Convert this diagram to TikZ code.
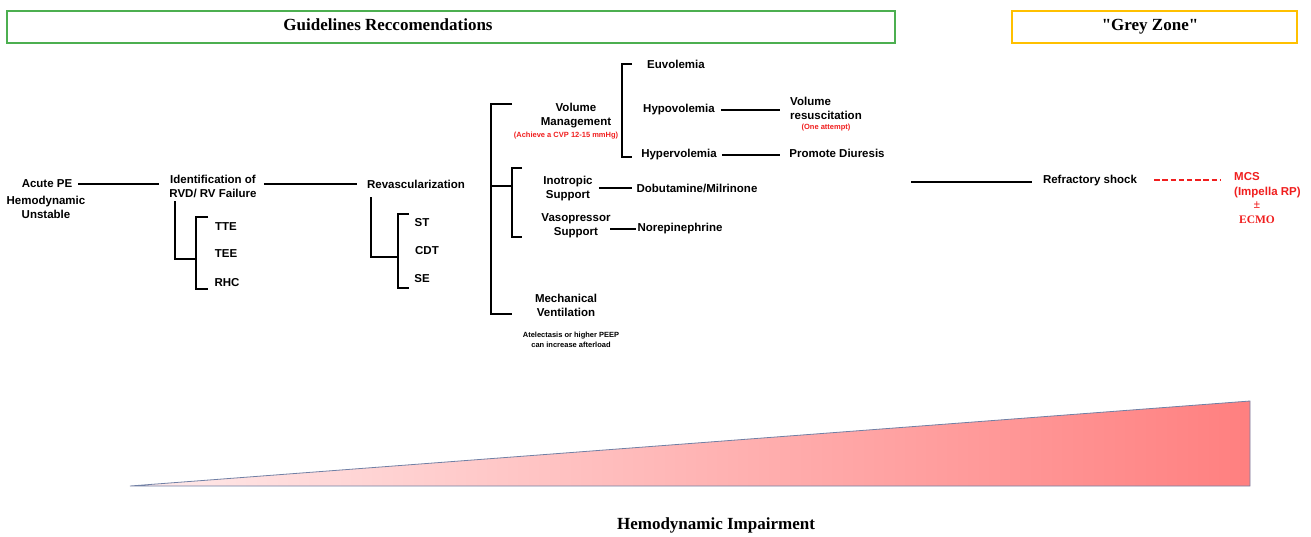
\documentclass[tikz,border=0pt]{standalone}
\usepackage{fontspec}
\setmainfont{Liberation Sans}
\newfontfamily\titlefont{Liberation Serif}
\usepackage{tikz}
\usetikzlibrary{positioning}
\definecolor{boxgreen}{RGB}{76,175,80}
\definecolor{boxyellow}{RGB}{255,192,0}
\definecolor{edgeblue}{RGB}{112,128,165}
\definecolor{alertred}{RGB}{240,30,30}
\tikzset{
 lbl/.style={font=\fontsize{11.5}{14}\selectfont\bfseries, align=center, inner sep=1pt},
 note/.style={font=\fontsize{7.5}{9.5}\selectfont\bfseries, align=center, inner sep=0pt},
 head/.style={font=\titlefont\fontsize{17}{20}\selectfont\bfseries, inner sep=0pt},
 conn/.style={line width=1.2pt},
 brk/.style={line width=2.4pt},
}

\begin{document}
\begin{tikzpicture}[x=1pt,y=-1pt]
\useasboundingbox (0,0) rectangle (1311,536);

%Headers
\draw[boxgreen, line width=1.5pt] (7,11) rectangle (895,43);
\node[head] (guide) at (388,25) {Guidelines Reccomendations};
\draw[boxyellow, line width=1.5pt] (1012,11) rectangle (1297,43);
\node[head] (grey) at (1150,27) {"Grey Zone"};

%Diagnosis
\node[lbl] (acute) at (47,184) {Acute PE};
\node[lbl] (unstable) at (46,207) {Hemodynamic\\Unstable};
\node[lbl] (ident) at (213,186) {Identification of\\RVD/ RV Failure};
\node[lbl] (revasc) at (416,184) {Revascularization};
\draw[conn, shorten <=5pt, shorten >=9pt] (acute.east) -- (acute.east -| ident.west);
\draw[conn, shorten <=6pt, shorten >=9pt] (ident.east |- revasc.west) -- (revasc.west);

\node[lbl] (tte) at (226,227) {TTE};
\node[lbl] (tee) at (226,254) {TEE};
\node[lbl] (rhc) at (227,283) {RHC};
\draw[conn] (175,201) |- (196,259);
\draw[conn] (208,217) -| (196,289) -- (208,289);

\node[lbl] (st) at (422,223) {ST};
\node[lbl] (cdt) at (427,251) {CDT};
\node[lbl] (se) at (422,279) {SE};
\draw[conn] (371,197) |- (398,257);
\draw[conn] (409,214) -| (398,288) -- (409,288);

%Supportive care
\draw[brk] (512,104) -| (491,314) -- (512,314);
\draw[brk] (491,186) -- (512,186);
\draw[conn, line width=1.6pt] (522,168) -| (512,237) -- (522,237);

\node[lbl] (volume) at (576,116) {Volume\\Management};
\node[note, text=alertred] (cvp) at (566,136) {(Achieve a CVP 12-15 mmHg)};
\draw[conn] (632,64) -| (622,157) -- (632,157);
\node[lbl] (euvol) at (676,64) {Euvolemia};
\node[lbl] (hypovol) at (679,110) {Hypovolemia};
\node[lbl] (hypervol) at (679,155) {Hypervolemia};
\node[lbl, align=left, anchor=west] (volres) at (789,108) {Volume\\resuscitation};
\node[note, text=alertred] (attempt) at (826,128) {(One attempt)};
\node[lbl] (diuresis) at (837,153) {Promote Diuresis};
\draw[conn, shorten <=5pt, shorten >=9pt] (hypovol.east) -- (hypovol.east -| volres.west);
\draw[conn, shorten <=4pt, shorten >=8pt] (hypervol.east) -- (hypervol.east -| diuresis.west);

\node[lbl] (ino) at (568,189) {Inotropic\\Support};
\node[lbl] (dobut) at (697,188) {Dobutamine/Milrinone};
\draw[conn, shorten <=5pt, shorten >=3pt] (ino.east |- dobut.west) -- (dobut.west);

\node[lbl] (vaso) at (576,226) {Vasopressor\\Support};
\node[lbl] (norepi) at (680,229) {Norepinephrine};
\coordinate (vasoend) at (610,229);
\draw[conn] (vasoend) -- (norepi.west);

\node[lbl] (mechvent) at (566,305) {Mechanical\\Ventilation};
\node[note] (peep) at (571,340) {Atelectasis or higher PEEP\\can increase afterload};

%Grey zone
\coordinate (shockin) at (911,182);
\node[lbl] (shock) at (1090,181) {Refractory shock};
\draw[conn, shorten >=10pt] (shockin) -- (shockin -| shock.west);
\node[lbl, text=alertred, align=left, anchor=west] (mcs) at (1233,185) {MCS\\[1pt](Impella RP)};
\draw[alertred, line width=1.2pt, dash pattern=on 5.5pt off 2.7pt, shorten <=16pt, shorten >=13pt] (shock.east |- 0,180) -- (mcs.west |- 0,180);
\node[text=alertred, font=\titlefont\fontsize{12}{12}\selectfont\bfseries, inner sep=0pt] (pm) at (1257,205.5) {±};
\node[text=alertred, font=\titlefont\fontsize{11.5}{12}\selectfont\bfseries, inner sep=0pt] (ecmo) at (1257,220) {ECMO};

%Severity wedge
\coordinate (tip) at (130,486);
\coordinate (base) at (1250,486);
\coordinate (top) at (1250,401);
\shade[left color=red!8, right color=red!50] (tip) -- (base) -- (top) -- cycle;
\draw[edgeblue, line width=0.8pt] (tip) -- (base) -- (top) -- cycle;
\node[head] (impair) at (716,525) {Hemodynamic Impairment};

\end{tikzpicture}
\end{document}
